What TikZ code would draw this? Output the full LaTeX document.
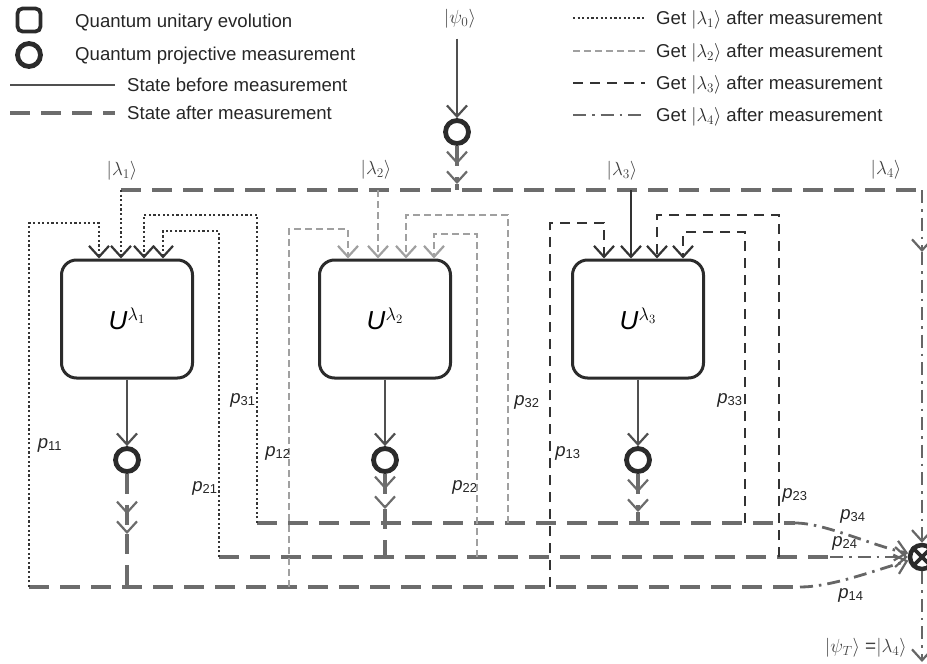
\documentclass[tikz,border=0pt]{standalone}
\usepackage{fix-cm}
\usepackage{fontspec}
\setmainfont{Liberation Sans}
\usetikzlibrary{arrows.meta}

\definecolor{inkdark}{HTML}{2B2B2B}
\definecolor{solidgray}{HTML}{505050}
\definecolor{aftergray}{HTML}{6C6C6C}
\definecolor{lamone}{HTML}{353535}
\definecolor{lamtwo}{HTML}{A0A0A0}
\definecolor{lamthree}{HTML}{333333}
\definecolor{lamfour}{HTML}{666666}

\tikzset{
  unitary/.style={draw=inkdark, line width=3pt, rounded corners=15pt,
    minimum width=131pt, minimum height=118pt, inner sep=0pt,
    font=\fontsize{26}{28}\selectfont},
  meas/.style={circle, draw=inkdark, line width=4.8pt, minimum size=23pt, inner sep=0pt},
  prestate/.style={solidgray, line width=2.5pt},
  poststate/.style={aftergray, line width=3.3pt, dash pattern=on 20pt off 11pt},
  getone/.style={lamone, line width=2.5pt, dash pattern=on 2.2pt off 2.4pt},
  gettwo/.style={lamtwo, line width=2.5pt, dash pattern=on 7pt off 4pt},
  getthree/.style={lamthree, line width=2.8pt, dash pattern=on 10pt off 7pt},
  getfour/.style={lamfour, line width=2.8pt, dash pattern=on 13pt off 6pt on 2.5pt off 6pt},
  tip/.style={-{Straight Barb[length=11pt,width=20pt,line width=2.2pt]}},
  dtip/.style={-{Straight Barb[length=11pt,width=20pt,line width=2.2pt,sep=6pt]Straight Barb[length=11pt,width=20pt,line width=2.2pt]}},
  legtext/.style={anchor=west, inner sep=0pt, text=black!85, font=\fontsize{18.6}{22}\selectfont},
  ket/.style={inner sep=0pt, text=black!75, font=\fontsize{19}{21}\selectfont},
  prob/.style={inner sep=0pt, text=black!85, font=\fontsize{18.5}{20}\selectfont},
}

\begin{document}
\begin{tikzpicture}[x=1pt, y=-1pt]
  \useasboundingbox (0,0) rectangle (927,664);
  % 凡例（左）
  \node[draw=inkdark, line width=3.8pt, rounded corners=5pt, minimum size=23pt] (lgU) at (29,20) {};
  \node[meas] (lgM) at (29,55) {};
  \node[legtext] (lgUt) at (75,23) {Quantum unitary evolution};
  \node[legtext] (lgMt) at (75,56) {Quantum projective measurement};
  \node[legtext] (lgBt) at (127,85) {State before measurement};
  \node[legtext] (lgAt) at (127,113) {State after measurement};
  \draw[prestate] (10,85) -- (115,85);
  \draw[poststate] (10,113) -- (115,113);
  % 凡例（右）
  \foreach \st/\y/\k in {getone/18/1, gettwo/51/2, getthree/83/3, getfour/115/4} {
    \draw[\st] (573,\y) -- (645,\y);
    \node[legtext] (lg\k) at (656,\y+2) {Get $|\lambda_\k\rangle$ after measurement};
  }

  % ユニタリ発展と射影測定
  \node[unitary] (U1) at (127,319) {\textit{U}\textsuperscript{$\lambda_1$}};
  \node[unitary] (U2) at (385,319) {\textit{U}\textsuperscript{$\lambda_2$}};
  \node[unitary] (U3) at (638,319) {\textit{U}\textsuperscript{$\lambda_3$}};
  \node[meas] (M0) at (457,132) {};
  \node[meas] (M1) at (127,460) {};
  \node[meas] (M2) at (385,460) {};
  \node[meas] (M3) at (638,460) {};
  \node[circle, draw=inkdark, line width=4.5pt, minimum size=24pt, inner sep=0pt] (OX) at (922,557) {};
  \draw[inkdark, line width=3.8pt, shorten <=2pt, shorten >=2pt]
    (OX.north west) -- (OX.south east) (OX.north east) -- (OX.south west);

  % ケットのラベル
  \node[ket] (k0) at (460,19) {$|\psi_0\rangle$};
  \node[ket] (k1) at (122,171) {$|\lambda_1\rangle$};
  \node[ket] (k2) at (376,170) {$|\lambda_2\rangle$};
  \node[ket] (k3) at (622,171) {$|\lambda_3\rangle$};
  \node[ket] (k4) at (886,170) {$|\lambda_4\rangle$};
  \node[ket] (kT) at (866,648) {$|\psi_T\rangle$ =$|\lambda_4\rangle$};

  % 初期状態の測定
  \coordinate (b1) at (121,190);
  \coordinate (b2) at (378,190);
  \coordinate (b3) at (631,190);
  \coordinate (b4) at (922,190);
  \coordinate (d0) at (457,184);
  \draw[prestate, tip, shorten <=10pt] (k0.south -| M0) -- (M0.north);
  \draw[poststate, dtip] (M0.south) -- (d0);
  \draw[poststate] (d0) -- (d0 |- b1);
  % 測定結果の分配
  \draw[poststate] (b1) -- (b4);
  \draw[getone, tip] (b1) -- (b1 |- U1.north);
  \draw[gettwo, tip] (b2) -- (b2 |- U2.north);
  \draw[lamthree, line width=2.8pt, tip] (b3) -- (b3 |- U3.north);
  \coordinate (r1) at (922,252);
  \coordinate (r2) at (922,662);
  \draw[getfour, tip] (b4) -- (r1);
  \draw[getfour, tip] (r1) -- (OX.north);
  \draw[getfour, tip] (OX.south) -- (r2);

  % 各ユニタリの後の測定
  \coordinate (A0) at (29,587);
  \coordinate (A1) at (800,587);
  \coordinate (B0) at (219,557);
  \coordinate (B1) at (830,557);
  \coordinate (C0) at (257,523);
  \coordinate (C1) at (795,523);
  \coordinate (d1) at (127,534);
  \coordinate (d2) at (385,509);
  \coordinate (d3) at (638,512);
  \foreach \u/\m/\d/\l in {U1/M1/d1/A0, U2/M2/d2/B0, U3/M3/d3/C0} {
    \draw[prestate, tip] (\u.south) -- (\m.north);
    \draw[poststate, dtip] (\m.south) -- (\d);
    \draw[poststate] (\d) -- (\d |- \l);
  }
  \draw[poststate] (A0) -- (A1);
  \draw[poststate] (B0) -- (B1);
  \draw[poststate] (C0) -- (C1);
  % 終状態への合流
  \draw[getfour, tip] (C1) .. controls (825,523) and (870,545) .. (OX.165);
  \draw[getfour, tip] (B1) -- (OX.west);
  \draw[getfour, tip] (A1) .. controls (830,587) and (870,572) .. (OX.195);

  % 測定後の状態を各ユニタリへ戻す
  \foreach \sx/\ln/\by/\tx/\bx/\st in {
      29/A0/223/99/U1/getone, 257/C0/215/144/U1/getone, 219/B0/231/163/U1/getone,
      289/A0/229/348/U2/gettwo, 508/C0/215/406/U2/gettwo, 477/B0/234/434/U2/gettwo,
      550/A0/223/604/U3/getthree, 745/C0/232/683/U3/getthree, 779/B0/215/657/U3/getthree}
    \draw[\st, tip] (\sx,\by |- \ln) -- (\sx,\by) -- (\tx,\by) -- (\tx,\by |- \bx.north);

  % 遷移確率
  \node[prob] (p11) at (50,445) {\textit{p}\textsubscript{11}};
  \node[prob] (p31) at (243,400) {\textit{p}\textsubscript{31}};
  \node[prob] (p12) at (278,453) {\textit{p}\textsubscript{12}};
  \node[prob] (p21) at (205,488) {\textit{p}\textsubscript{21}};
  \node[prob] (p32) at (527,402) {\textit{p}\textsubscript{32}};
  \node[prob] (p22) at (465,487) {\textit{p}\textsubscript{22}};
  \node[prob] (p13) at (568,453) {\textit{p}\textsubscript{13}};
  \node[prob] (p33) at (730,400) {\textit{p}\textsubscript{33}};
  \node[prob] (p23) at (795,495) {\textit{p}\textsubscript{23}};
  \node[prob] (p34) at (853,516) {\textit{p}\textsubscript{34}};
  \node[prob] (p24) at (845,543) {\textit{p}\textsubscript{24}};
  \node[prob] (p14) at (851,595) {\textit{p}\textsubscript{14}};
\end{tikzpicture}
\end{document}
